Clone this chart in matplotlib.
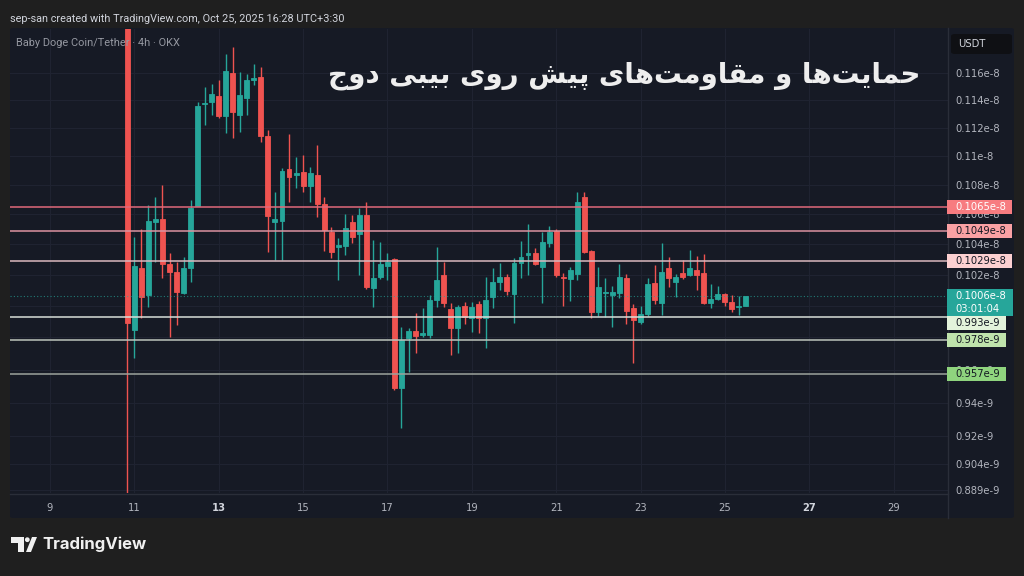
import pandas as pd
import matplotlib
matplotlib.use('Agg')
import matplotlib.pyplot as plt
import matplotlib.dates as mdates
from matplotlib.patches import Rectangle, FancyBboxPatch, Polygon, Circle
from matplotlib.lines import Line2D
from matplotlib.ticker import FixedLocator, NullLocator, NullFormatter

# 4h candles, price in units of 1e-9 USDT, first bar Oct 10 20:00
start_time = '2025-10-10 20:00'
opens = [1.2500, 0.9845, 1.0243, 1.0068, 1.0547, 1.0568, 1.0269, 1.0217, 1.0081, 1.0243,
         1.0656, 1.1373, 1.1387, 1.1431, 1.1286, 1.1600, 1.1293, 1.1417, 1.1548, 1.1570,
         1.1143, 1.0547, 1.0554, 1.0911, 1.0869, 1.0890, 1.0793, 1.0869, 1.0670, 1.0481,
         1.0381, 1.0387, 1.0547, 1.0467, 1.0595, 1.0113, 1.0184, 1.0256, 1.0302, 0.9487,
         0.9795, 0.9839, 0.9814, 0.9814, 1.0036, 1.0198, 0.9978, 0.9858, 0.9998, 0.9921,
         1.0010, 0.9921, 1.0055, 1.0152, 1.0184, 1.0074, 1.0276, 1.0328, 1.0341, 1.0250,
         1.0407, 1.0487, 1.0184, 1.0171, 1.0204, 1.0718, 1.0354, 0.9959, 1.0081, 1.0068,
         1.0081, 1.0178, 0.9985, 0.9896, 0.9946, 1.0145, 1.0017, 1.0243, 1.0152, 1.0211,
         1.0198, 1.0230, 1.0211, 1.0017, 1.0042, 1.0074, 1.0023, 0.9991, 0.9998]
highs = [1.3000, 1.0447, 1.0501, 1.0663, 1.0718, 1.0800, 1.0341, 1.0282, 1.0315, 1.0697,
         1.1387, 1.1497, 1.1519, 1.1548, 1.1742, 1.1795, 1.1607, 1.1593, 1.1667, 1.1644,
         1.1186, 1.0752, 1.0918, 1.1157, 1.0994, 1.1008, 1.0925, 1.1079, 1.0718, 1.0514,
         1.0440, 1.0602, 1.0595, 1.0643, 1.0683, 1.0427, 1.0414, 1.0341, 1.0308, 0.9864,
         0.9858, 0.9953, 0.9985, 1.0068, 1.0381, 1.0282, 1.0017, 1.0004, 1.0023, 1.0023,
         1.0030, 1.0184, 1.0243, 1.0276, 1.0204, 1.0308, 1.0420, 1.0534, 1.0374, 1.0481,
         1.0521, 1.0501, 1.0211, 1.0250, 1.0752, 1.0752, 1.0361, 1.0250, 1.0178, 1.0126,
         1.0269, 1.0204, 1.0010, 0.9998, 1.0178, 1.0263, 1.0407, 1.0315, 1.0204, 1.0295,
         1.0361, 1.0321, 1.0334, 1.0139, 1.0126, 1.0081, 1.0068, 1.0062, 1.0062]
lows = [0.7000, 0.9671, 0.9921, 0.9991, 1.0282, 1.0178, 0.9802, 0.9876, 1.0074, 1.0152,
        1.0656, 1.1221, 1.1293, 1.1271, 1.1165, 1.1128, 1.1172, 1.1293, 1.1511, 1.1100,
        1.0348, 1.0295, 1.0295, 1.0683, 1.0780, 1.0752, 1.0683, 1.0581, 1.0354, 1.0308,
        1.0165, 1.0328, 1.0407, 1.0198, 1.0107, 0.9991, 1.0171, 1.0165, 0.9475, 0.9249,
        0.9585, 0.9702, 0.9802, 0.9795, 0.9991, 0.9991, 0.9689, 0.9702, 0.9883, 0.9833,
        0.9826, 0.9733, 0.9985, 1.0100, 1.0068, 0.9889, 1.0178, 1.0198, 1.0263, 1.0017,
        1.0381, 1.0184, 0.9998, 1.0030, 1.0165, 1.0341, 0.9921, 0.9934, 0.9927, 0.9864,
        1.0049, 0.9883, 0.9640, 0.9883, 0.9934, 1.0010, 0.9940, 1.0120, 1.0055, 1.0171,
        1.0191, 1.0100, 1.0010, 0.9985, 1.0036, 0.9998, 0.9959, 0.9940, 0.9998]
closes = [0.9889, 1.0256, 1.0055, 1.0554, 1.0568, 1.0269, 1.0217, 1.0087, 1.0243, 1.0643,
          1.1358, 1.1380, 1.1446, 1.1286, 1.1615, 1.1315, 1.1438, 1.1548, 1.1563, 1.1143,
          1.0588, 1.0568, 1.0897, 1.0855, 1.0883, 1.0793, 1.0883, 1.0670, 1.0494, 1.0348,
          1.0394, 1.0507, 1.0447, 1.0595, 1.0120, 1.0178, 1.0269, 1.0282, 0.9487, 0.9783,
          0.9839, 0.9808, 0.9826, 1.0036, 1.0165, 1.0017, 0.9858, 0.9991, 0.9927, 0.9991,
          0.9921, 1.0036, 1.0152, 1.0184, 1.0094, 1.0276, 1.0315, 1.0341, 1.0269, 1.0414,
          1.0481, 1.0198, 1.0178, 1.0230, 1.0683, 1.0348, 0.9959, 1.0120, 1.0087, 1.0087,
          1.0184, 0.9965, 0.9908, 0.9946, 1.0139, 1.0036, 1.0217, 1.0178, 1.0184, 1.0184,
          1.0243, 1.0198, 1.0017, 1.0042, 1.0074, 1.0023, 0.9978, 0.9998, 1.0060]

# support / resistance levels
levels = [1.065, 1.049, 1.029, 0.993, 0.978, 0.957]
level_labels = ['0.1065e-8', '0.1049e-8', '0.1029e-8', '0.993e-9', '0.978e-9', '0.957e-9']
level_line_colors = ['#e0697a', '#dc93a0', '#dbb8be', '#d8ded8', '#bcc4bc', '#9ca39c']
level_box_colors = ['#f77c80', '#faa1a4', '#fcd0d1', '#e3f3db', '#bfe3ac', '#8fd47e']
level_text_colors = ['#ffffff', '#131722', '#131722', '#131722', '#131722', '#131722']
last_label = '0.1006e-8'
countdown = '03:01:04'

price_ticks = [1.16, 1.14, 1.12, 1.10, 1.08, 1.06, 1.04, 1.02, 1.00, 0.98, 0.96, 0.94, 0.92, 0.904, 0.889]
# 0.1e-8 and 0.98e-9 sit fully under the price labels, so they stay blank
price_tick_labels = ['0.116e-8', '0.114e-8', '0.112e-8', '0.11e-8', '0.108e-8', '0.106e-8', '0.104e-8',
                     '0.102e-8', '', '', '0.96e-9', '0.94e-9', '0.92e-9', '0.904e-9', '0.889e-9']
day_ticks = [9, 11, 13, 15, 17, 19, 21, 23, 25, 27, 29]
bold_days = [13, 27]

title = 'حمایت\u200cها و مقاومت\u200cهای پیش روی بیبی دوج'
header = 'sep-san created with TradingView.com, Oct 25, 2025 16:28 UTC+3:30'
symbol = 'Baby Doge Coin/Tether · 4h · OKX'

UP = '#26a69a'
DOWN = '#ef5350'
OUTER = '#1f1f1f'
PANEL = '#161a25'
TXT = '#b2b5be'

# --- minimal Persian shaping (matplotlib 3.10 has no bidi / joining) ---
FORMS = {
    'ح': ('\uFEA1', '\uFEA2', '\uFEA3', '\uFEA4'), 'م': ('\uFEE1', '\uFEE2', '\uFEE3', '\uFEE4'),
    'ی': ('\uFBFC', '\uFBFD', '\uFBFE', '\uFBFF'), 'ت': ('\uFE95', '\uFE96', '\uFE97', '\uFE98'),
    'ه': ('\uFEE9', '\uFEEA', '\uFEEB', '\uFEEC'), 'ق': ('\uFED5', '\uFED6', '\uFED7', '\uFED8'),
    'پ': ('\uFB56', '\uFB57', '\uFB58', '\uFB59'), 'ش': ('\uFEB5', '\uFEB6', '\uFEB7', '\uFEB8'),
    'ب': ('\uFE8F', '\uFE90', '\uFE91', '\uFE92'), 'ج': ('\uFE9D', '\uFE9E', '\uFE9F', '\uFEA0'),
    'ا': ('\uFE8D', '\uFE8E'), 'و': ('\uFEED', '\uFEEE'),
    'ر': ('\uFEAD', '\uFEAE'), 'د': ('\uFEA9', '\uFEAA'),
}


def shape_rtl(s):
    out = []
    for i, ch in enumerate(s):
        if ch not in FORMS:
            if ch != '\u200c':
                out.append(ch)
            continue
        f = FORMS[ch]
        prev = s[i - 1] if i > 0 else ''
        nxt = s[i + 1] if i + 1 < len(s) else ''
        pj = prev in FORMS and len(FORMS[prev]) == 4
        nj = len(f) == 4 and nxt in FORMS
        if len(f) == 2:
            out.append(f[1] if pj else f[0])
        elif pj and nj:
            out.append(f[3])
        elif pj:
            out.append(f[1])
        elif nj:
            out.append(f[2])
        else:
            out.append(f[0])
    return ''.join(reversed(out))


W, H = 1024, 576
fig = plt.figure(figsize=(W / 100, H / 100), dpi=100)
fig.patch.set_facecolor(OUTER)


def fx(px):
    return px / W


def fy(py):
    return 1 - py / H


# chart panel
fig.add_artist(FancyBboxPatch((fx(10), fy(518)), fx(1004), (518 - 28) / H,
                              boxstyle='round,pad=0,rounding_size=0.003',
                              transform=fig.transFigure, fc=PANEL, ec='none', zorder=0))

ax = fig.add_axes([fx(10), fy(493), fx(938), (493 - 29) / H])
ax.set_facecolor(PANEL)
for s in ax.spines.values():
    s.set_visible(False)

times = mdates.date2num(pd.date_range(start_time, periods=len(opens), freq='4h'))
base = mdates.date2num(pd.Timestamp('2025-10-01'))

cols = [UP if c >= o else DOWN for o, c in zip(opens, closes)]
ax.vlines(times, lows, highs, colors=cols, lw=1, zorder=2)
bottoms = [min(o, c) for o, c in zip(opens, closes)]
heights = [abs(c - o) for o, c in zip(opens, closes)]
ax.bar(times, heights, bottom=bottoms, width=0.7 * 4 / 24, color=cols,
       edgecolor=cols, linewidth=0.6, zorder=2)

for lvl, lc in zip(levels, level_line_colors):
    ax.axhline(lvl, color=lc, lw=1.1, zorder=3)
ax.axhline(closes[-1], color=UP, lw=0.8, ls=(0, (1, 2)), alpha=0.7, zorder=3)

ax.set_yscale('log')
ax.set_ylim(0.8873, 1.1930)
ax.set_xlim(base + 7.0517, base + 29.29)

ax.yaxis.set_major_locator(FixedLocator(price_ticks))
ax.yaxis.set_minor_locator(NullLocator())
ax.yaxis.set_minor_formatter(NullFormatter())
ax.set_yticklabels(price_tick_labels)
ax.yaxis.tick_right()
ax.tick_params(axis='y', length=0, pad=5.5, labelsize=7.2, labelcolor=TXT)

ax.set_xticks([base + d - 1 for d in day_ticks])
ax.set_xticklabels([str(d) for d in day_ticks])
ax.tick_params(axis='x', length=0, pad=7, labelsize=7.2, labelcolor=TXT)
for lab, d in zip(ax.get_xticklabels(), day_ticks):
    if d in bold_days:
        lab.set_fontweight('bold')
        lab.set_color('#d1d4dc')
ax.grid(True, color='#1f2331', lw=0.8, zorder=0)
ax.set_axisbelow(True)

# separators
fig.add_artist(Line2D([fx(948), fx(948)], [fy(28), fy(518)], color='#2a2e39', lw=1))
fig.add_artist(Line2D([fx(10), fx(948)], [fy(494), fy(494)], color='#2a2e39', lw=1))

# USDT box
fig.add_artist(FancyBboxPatch((fx(951), fy(54)), fx(61), 20 / H,
                              boxstyle='round,pad=0,rounding_size=0.004',
                              transform=fig.transFigure, fc='#0f1014', ec='none'))
fig.text(fx(958), fy(44), 'USDT', color='#d1d4dc', fontsize=7.2, va='center', ha='left')

# texts
fig.text(fx(10), fy(19), header, color='#d1d4dc', fontsize=7.8, family='Roboto', va='center')
fig.text(fx(16), fy(43), symbol, color='#9598a1', fontsize=7.9, family='Roboto', va='center')
fig.text(fx(920), fy(76), shape_rtl(title), color='#eeeeee', fontsize=20,
         family=['DejaVu Sans'], fontweight='bold', ha='right', va='center')

# price-scale labels
fig.canvas.draw()
r = fig.canvas.get_renderer()
x0 = ax.get_xlim()[0]
ylast = ax.transData.transform((x0, closes[-1]))[1]
last_top, last_bot = ylast + 7, ylast - 20
fig.add_artist(Rectangle((fx(947), last_bot / H), 66 / W, (last_top - last_bot) / H,
                         transform=fig.transFigure, fc=UP, ec='none', zorder=5))
fig.text(fx(955), ylast / H, last_label, color='#ffffff', fontsize=7.2, va='center', zorder=6)
fig.text(fx(955), (ylast - 13) / H, countdown, color='#ffffff', fontsize=7.2, va='center', zorder=6)

for lvl, lab, bg, tc in zip(levels, level_labels, level_box_colors, level_text_colors):
    ypx = ax.transData.transform((x0, lvl))[1]
    # push label out of the current-price box, like the price scale does
    if ypx < ylast and ypx + 7 > last_bot:
        ypx = last_bot - 7
    elif ypx >= ylast and ypx - 7 < last_top:
        ypx = last_top + 7
    t = fig.text(fx(955), ypx / H, lab, color=tc, fontsize=7.2, va='center', ha='left', zorder=6)
    wpx = t.get_window_extent(r).width
    fig.add_artist(Rectangle((fx(947), (ypx - 7) / H), (wpx + 14) / W, 14 / H,
                             transform=fig.transFigure, fc=bg, ec='none', zorder=5))

# TradingView logo
lax = fig.add_axes([fx(11), fy(552), fx(26), 15 / H])
lax.set_xlim(0, 26)
lax.set_ylim(0, 15)
lax.axis('off')
lax.add_patch(Rectangle((0, 9.5), 12.5, 5.5, fc='#f0f0f0', ec='none'))
lax.add_patch(Rectangle((7, 0), 6, 15, fc='#f0f0f0', ec='none'))
lax.add_patch(Circle((16.3, 12.3), 2.4, fc='#f0f0f0', ec='none'))
lax.add_patch(Polygon([(15, 0), (20, 0), (26, 15), (21, 15)], fc='#f0f0f0', ec='none'))
fig.text(fx(42), fy(544), 'TradingView', color='#f0f0f0', fontsize=12, family='Inter',
         fontweight='bold', va='center')

fig.savefig('out.png', dpi=100, facecolor=OUTER)
